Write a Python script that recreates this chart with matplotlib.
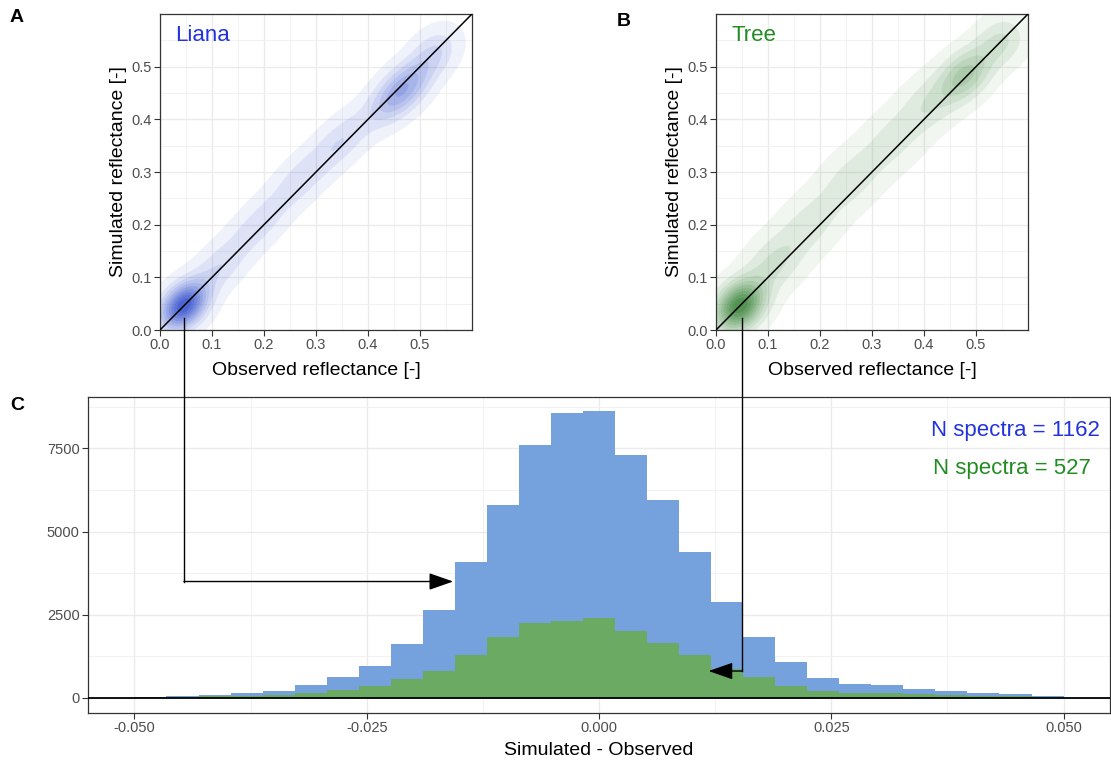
import numpy as np
import matplotlib
matplotlib.use("Agg")
import matplotlib.pyplot as plt
from matplotlib.colors import to_rgb
from matplotlib.lines import Line2D
from matplotlib.patches import FancyArrowPatch
from matplotlib.ticker import MultipleLocator, FormatStrFormatter

plt.rcParams['font.family'] = ['Liberation Sans', 'DejaVu Sans']

# --- data -------------------------------------------------------------
# Histogram of simulated - observed reflectance: 29 bins spanning -0.05..0.05
bin_lo, bin_hi, n_bins = -0.05, 0.05, 29
liana_counts = [20, 60, 90, 140, 220, 380, 620, 960, 1620, 2640,
                4090, 5810, 7590, 8550, 8620, 7300, 5950, 4380, 2870, 1840,
                1070, 590, 430, 380, 280, 210, 140, 110, 60]
tree_counts = [10, 20, 50, 70, 90, 150, 240, 360, 560, 820,
               1300, 1820, 2260, 2300, 2390, 2010, 1650, 1280, 880, 640,
               370, 210, 160, 140, 110, 90, 70, 50, 30]
n_liana = 1162
n_tree = 527

# 2D density (simulated vs observed) described as blobs along the 1:1 line
liana_cx = [0.045, 0.11, 0.19, 0.27, 0.35, 0.465, 0.53]
liana_cy = [0.045, 0.115, 0.20, 0.285, 0.36, 0.455, 0.53]
liana_sa = [0.034, 0.05, 0.05, 0.05, 0.05, 0.05, 0.035]       # spread along 1:1
liana_sp = [0.024, 0.025, 0.025, 0.025, 0.025, 0.025, 0.026]  # spread across
liana_w = [1.0, 0.33, 0.28, 0.3, 0.33, 0.85, 0.22]

tree_cx = [0.045, 0.11, 0.18, 0.26, 0.34, 0.41, 0.48, 0.55]
tree_cy = [0.045, 0.125, 0.20, 0.285, 0.36, 0.43, 0.485, 0.55]
tree_sa = [0.036, 0.045, 0.05, 0.05, 0.05, 0.045, 0.042, 0.035]
tree_sp = [0.027, 0.032, 0.034, 0.034, 0.034, 0.032, 0.028, 0.03]
tree_w = [1.0, 0.35, 0.3, 0.3, 0.28, 0.28, 0.55, 0.25]

liana_col = '#2233DD'
tree_col = '#228B22'
liana_fill = '#2444C8'
tree_fill = '#2E7D2E'
blue_bar = '#75A1DD'
green_bar = '#6BAA62'


def density(cx, cy, sa, sp, w, X, Y):
    Z = np.zeros_like(X)
    for x0, y0, a, p, wt in zip(cx, cy, sa, sp, w):
        u = ((X - x0) + (Y - y0)) / np.sqrt(2)
        v = ((Y - y0) - (X - x0)) / np.sqrt(2)
        Z += wt / (2 * np.pi * a * p) * np.exp(-0.5 * (u**2 / a**2 + v**2 / p**2))
    return Z


def style_axes(ax):
    for s in ax.spines.values():
        s.set_color('#333333')
        s.set_linewidth(0.9)
    ax.grid(which='major', color='#EBEBEB', lw=1.0, zorder=0)
    ax.grid(which='minor', color='#F0F0F0', lw=0.6, zorder=0)
    ax.set_axisbelow(True)
    ax.tick_params(which='major', length=4, width=0.8, color='#333333',
                   labelcolor='#4D4D4D', labelsize=10.5, pad=2)
    ax.tick_params(which='minor', length=0)


fig = plt.figure(figsize=(11.11, 7.62), dpi=100)
W, H = 1111, 762

axA = fig.add_axes([160 / W, 1 - 330 / H, 312 / W, 316 / H])
axB = fig.add_axes([716 / W, 1 - 330 / H, 312 / W, 316 / H])
axC = fig.add_axes([88 / W, 1 - 713 / H, 1022 / W, 316 / H])

g = np.linspace(0, 0.6, 600)
GX, GY = np.meshgrid(g, g)

panels = [
    (axA, 'Liana', liana_col, liana_fill, (liana_cx, liana_cy, liana_sa, liana_sp, liana_w)),
    (axB, 'Tree', tree_col, tree_fill, (tree_cx, tree_cy, tree_sa, tree_sp, tree_w)),
]
for ax, name, tcol, fcol, blobs in panels:
    style_axes(ax)
    Z = density(*blobs, GX, GY)
    # banded density (filled contour look), rendered as an RGBA raster
    levels = np.linspace(0.035, 1.0, 11) * Z.max()
    alphas = np.concatenate([[0.0], np.linspace(0.07, 0.82, len(levels) - 1), [0.82]])
    band = np.digitize(Z, levels)
    rgba = np.zeros(Z.shape + (4,))
    rgba[..., :3] = to_rgb(fcol)
    rgba[..., 3] = alphas[band]
    ax.imshow(rgba, extent=(0, 0.6, 0, 0.6), origin='lower', aspect='auto',
              interpolation='antialiased', zorder=1)
    ax.axline((0, 0), slope=1, color='black', lw=1.1, zorder=3)
    ax.set_xlim(0, 0.6)
    ax.set_ylim(0, 0.6)
    ax.xaxis.set_minor_locator(MultipleLocator(0.05))
    ax.yaxis.set_minor_locator(MultipleLocator(0.05))
    ax.set_xticks([0, 0.1, 0.2, 0.3, 0.4, 0.5])
    ax.set_yticks([0, 0.1, 0.2, 0.3, 0.4, 0.5])
    ax.xaxis.set_major_formatter(FormatStrFormatter('%.1f'))
    ax.yaxis.set_major_formatter(FormatStrFormatter('%.1f'))
    ax.set_xlabel('Observed reflectance [-]', fontsize=14, labelpad=7)
    ax.set_ylabel('Simulated reflectance [-]', fontsize=14, labelpad=3)
    ax.text(0.03, 0.56, name, color=tcol, fontsize=16, va='center', ha='left')

# histogram panel
style_axes(axC)
edges = np.linspace(bin_lo, bin_hi, n_bins + 1)
centers = (edges[:-1] + edges[1:]) / 2
bw = edges[1] - edges[0]
axC.bar(centers, liana_counts, width=bw, color=blue_bar, linewidth=0, zorder=2)
axC.bar(centers, tree_counts, width=bw, color=green_bar, linewidth=0, zorder=2.1)
axC.axhline(0, color='black', lw=1.3, zorder=3)
axC.set_xlim(-0.055, 0.055)
axC.set_ylim(-451, 9044)
axC.set_xticks([-0.05, -0.025, 0, 0.025, 0.05])
axC.xaxis.set_minor_locator(MultipleLocator(0.0125))
axC.set_yticks([0, 2500, 5000, 7500])
axC.yaxis.set_minor_locator(MultipleLocator(1250))
axC.xaxis.set_major_formatter(FormatStrFormatter('%.3f'))
axC.set_xlabel('Simulated - Observed', fontsize=14, labelpad=5)
axC.text(0.0539, 8050, f'N spectra = {n_liana}', color=liana_col, fontsize=16,
         ha='right', va='center')
axC.text(0.0529, 6910, f'N spectra = {n_tree}', color=tree_col, fontsize=16,
         ha='right', va='center')

# panel letters
for lab, x, y in [('A', 10, 18), ('B', 617, 21), ('C', 10, 405)]:
    fig.text(x / W, 1 - y / H, lab, fontsize=14, fontweight='bold', va='center', ha='left')


# elbow arrows linking the low-reflectance blob to the histogram
def link(ax_from, pt_from, ax_to, pt_to):
    inv = fig.transFigure.inverted()
    p0 = ax_from.transData.transform(pt_from)
    p1 = ax_to.transData.transform(pt_to)
    a = inv.transform(p0)
    c = inv.transform((p0[0], p1[1]))
    b = inv.transform(p1)
    fig.add_artist(Line2D([a[0], c[0]], [a[1], c[1]], transform=fig.transFigure,
                          color='black', lw=1.0, zorder=5))
    fig.add_artist(FancyArrowPatch(c, b, transform=fig.transFigure,
                                   arrowstyle='-|>,head_length=1.0,head_width=0.35',
                                   mutation_scale=15, color='black', lw=1.0,
                                   shrinkA=0, shrinkB=0, zorder=5))


link(axA, (0.046, 0.023), axC, (-0.0157, 3500))
link(axB, (0.050, 0.023), axC, (0.0118, 810))

fig.savefig('out.png', dpi=100)
